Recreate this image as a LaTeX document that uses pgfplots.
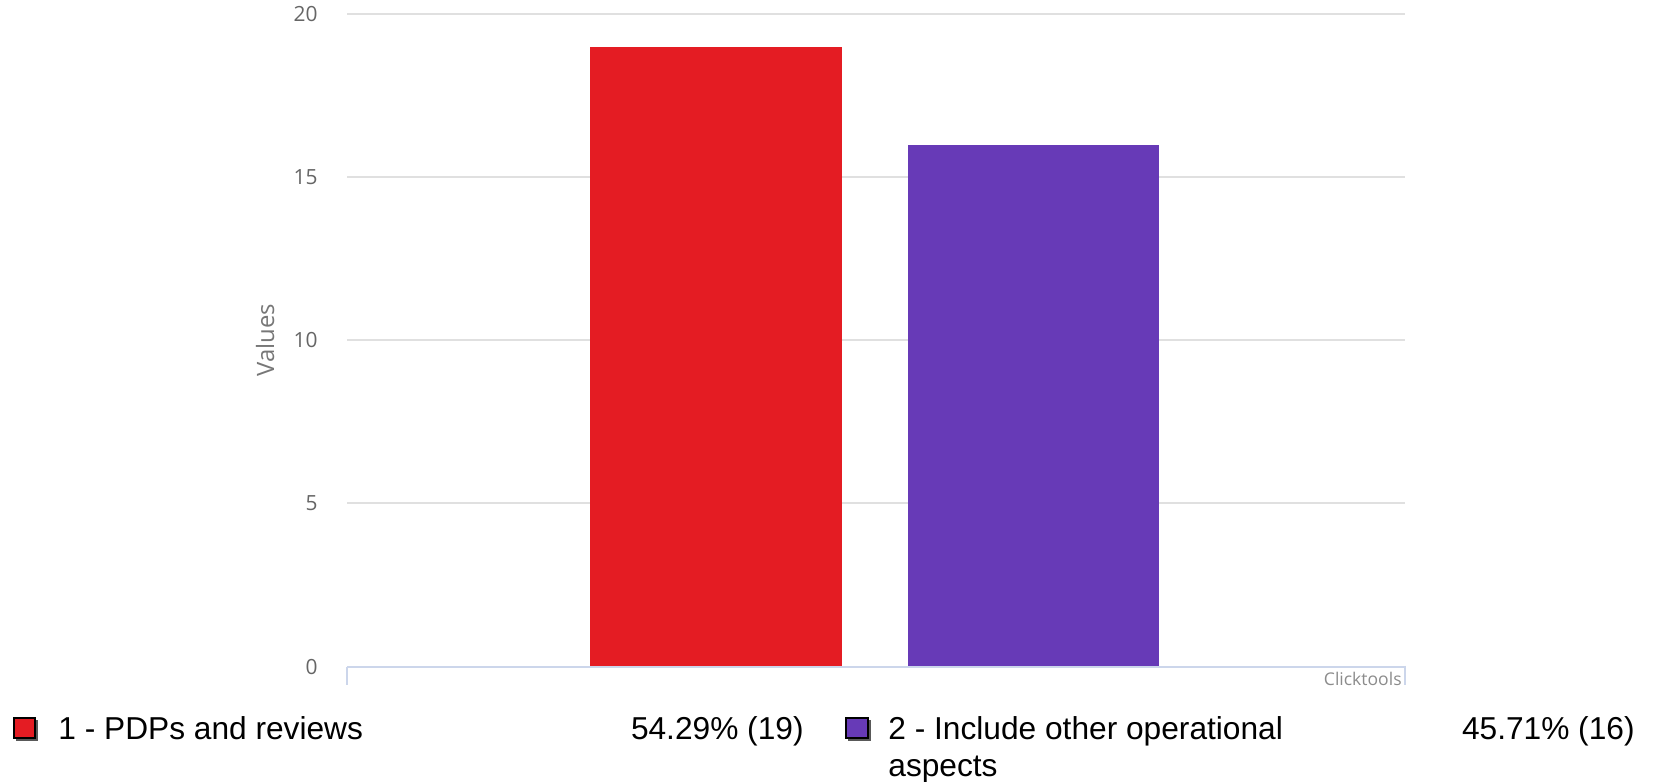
\documentclass[border=0pt]{standalone}
\usepackage{pgfplots}
\pgfplotsset{compat=1.18}
\usepackage{fontspec}
\setmainfont{Liberation Sans}
\newfontfamily\tickfont{Open Sans}
\definecolor{barred}{HTML}{E41C23}
\definecolor{barpurple}{HTML}{673AB7}
\definecolor{gridc}{HTML}{E0E0E0}
\definecolor{axisc}{HTML}{CCD6EB}
\definecolor{tickc}{HTML}{666666}
\definecolor{labc}{HTML}{777777}
\begin{document}
\begin{tikzpicture}
\useasboundingbox (0,0) rectangle (827.5bp,-391bp);
\begin{axis}[
  at={(173.5bp,-333.3bp)}, anchor=south west,
  width=528.75bp, height=326.3bp, scale only axis,
  xmin=-1.160, xmax=2.167, ymin=0, ymax=20,
  ytick={0,5,10,15,20}, xtick=\empty,
  axis line style={draw=none},
  ymajorgrids, major grid style={gridc, line width=1bp},
  major tick length=0pt,
  yticklabel style={font=\tickfont\fontsize{10.5}{12}\selectfont, text=tickc, anchor=east, inner sep=0pt, xshift=-14.5bp},
  /pgf/number format/assume math mode=true,
  ylabel={Values},
  every axis y label/.style={at={(axis description cs:-0.0775,0.5)}, anchor=center, rotate=90, font=\tickfont\fontsize{12}{14}\selectfont, text=labc},
  clip=false,
]
\addplot[ybar, bar width=0.792, bar shift=0pt, fill=barred, draw=none] coordinates {(0,19)};
\addplot[ybar, bar width=0.792, bar shift=0pt, fill=barpurple, draw=none] coordinates {(1,16)};
\draw[axisc, line width=1bp] (rel axis cs:0,0) -- (rel axis cs:1,0);
\end{axis}
% axis foot / credits box
\draw[axisc, line width=1bp] (173.5bp,-333.3bp) -- (173.5bp,-342.5bp);
\draw[axisc, line width=1bp] (702.5bp,-332.8bp) -- (702.5bp,-342.5bp);
\node[anchor=east, inner sep=0pt, font=\tickfont\fontsize{8.8}{10}\selectfont, text=black!45] at (701bp,-339.5bp) {Clicktools};
% legend
\fill[black!65] (8.2bp,-360bp) rectangle (18.8bp,-370.5bp);
\filldraw[fill=barred, draw=black, line width=1bp] (7bp,-358.8bp) rectangle (17.5bp,-369.2bp);
\node[anchor=base west, inner sep=0pt, font=\fontsize{15.9}{19}\selectfont] at (29bp,-369.5bp) {1 - PDPs and reviews};
\node[anchor=base east, inner sep=0pt, font=\fontsize{15.9}{19}\selectfont] at (402bp,-369.5bp) {54.29\% (19)};
\fill[black!65] (424.2bp,-360bp) rectangle (435.3bp,-370.5bp);
\filldraw[fill=barpurple, draw=black, line width=1bp] (423bp,-358.8bp) rectangle (434bp,-369.2bp);
\node[anchor=base west, inner sep=0pt, font=\fontsize{15.9}{19}\selectfont] at (444bp,-369.5bp) {2 - Include other operational};
\node[anchor=base west, inner sep=0pt, font=\fontsize{15.9}{19}\selectfont] at (444bp,-388bp) {aspects};
\node[anchor=base east, inner sep=0pt, font=\fontsize{15.9}{19}\selectfont] at (817.5bp,-369.5bp) {45.71\% (16)};
\end{tikzpicture}
\end{document}
